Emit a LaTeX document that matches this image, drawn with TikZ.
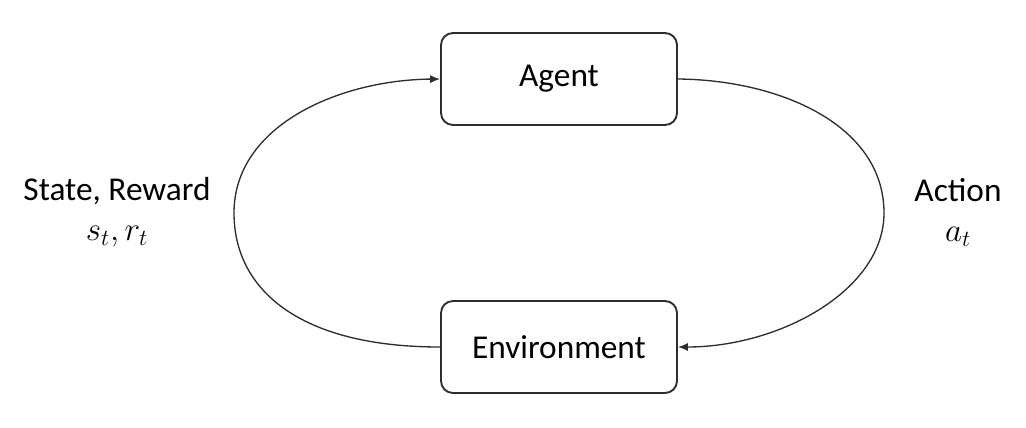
\documentclass[tikz,border=0pt]{standalone}
\usepackage{fontspec}
\setmainfont{Carlito}
\usepackage{tikz}
\usetikzlibrary{arrows.meta,positioning}
\definecolor{traitGris}{RGB}{45,45,45}

\begin{document}
\begin{tikzpicture}[x=0.75pt,y=-0.75pt,
  font=\fontsize{25}{30}\selectfont,
  boite/.style={draw=traitGris, line width=1.4pt, rounded corners=9pt,
                minimum width=177pt, minimum height=69pt, inner sep=0pt},
  fleche/.style={-{Latex[length=7.5pt,width=6pt]}, traitGris, line width=1pt}]

\useasboundingbox (0,0) rectangle (1026,428);

\node[boite] (agent) at (559,79) {Agent};
\node[boite] (env) at (559,347) {Environment};

\coordinate (gauche) at (234,213);
\coordinate (droite) at (884,213);

\draw[fleche] (env.west) .. controls (300,347) and (234,290) .. (gauche)
              .. controls (234,125) and (340,80) .. (agent.west);
\draw[fleche] (agent.east) .. controls (780,80) and (884,125) .. (droite)
              .. controls (884,290) and (780,347) .. (env.east);

\node[align=center] (etat) at (117,212) {State, Reward\\$s_t, r_t$};
\node[align=center] (action) at (958,212) {Action\\$a_t$};

\end{tikzpicture}
\end{document}
